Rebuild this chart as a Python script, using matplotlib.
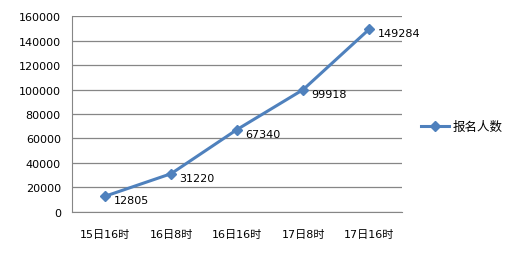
import matplotlib
matplotlib.use('Agg')
from matplotlib import pyplot as plt

plt.rcParams['font.family'] = ['DejaVu Sans', 'Noto Sans CJK SC']

times = ['15日16时', '16日8时', '16日16时', '17日8时', '17日16时']
signups = [12805, 31220, 67340, 99918, 149284]
series_name = '报名人数'
yticks = [0, 20000, 40000, 60000, 80000, 100000, 120000, 140000, 160000]

fig = plt.figure(figsize=(5.16, 2.55), dpi=100)
ax = fig.add_axes([0.1395, 0.165, 0.64, 0.768])

xs = list(range(len(times)))
ax.plot(xs, signups, color='#4F81BD', linewidth=2.2, marker='D', markersize=5,
        label=series_name, zorder=3)

# value labels to the right of each point
for x, v in zip(xs, signups):
    ax.annotate(str(v), xy=(x, v), xytext=(6, -3), textcoords='offset points',
                fontsize=8, va='center', ha='left')

ax.set_xlim(-0.5, len(times) - 0.5)
ax.set_ylim(0, 160000)
ax.set_yticks(yticks)
ax.set_yticklabels([str(t) for t in yticks], fontsize=8)
ax.set_xticks(xs)
ax.set_xticklabels(times, fontsize=8)
ax.tick_params(axis='both', length=0, pad=8)
ax.tick_params(axis='x', pad=12)

ax.grid(axis='y', color='#868686', linewidth=0.9)
ax.set_axisbelow(True)
for side in ['top', 'right']:
    ax.spines[side].set_visible(False)
for side in ['left', 'bottom']:
    ax.spines[side].set_color('#868686')

fig.legend(loc='center left', bbox_to_anchor=(0.795, 0.5), frameon=False,
           fontsize=9, handlelength=2.2, handletextpad=0.3)

fig.savefig('out.png', dpi=100)
